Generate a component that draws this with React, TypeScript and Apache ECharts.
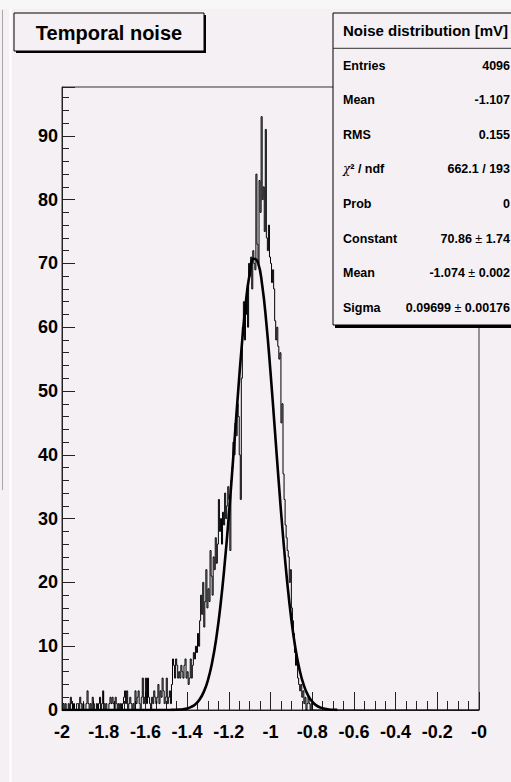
import React, { useEffect, useRef } from "react";
import * as echarts from "echarts";

// ---------- data ----------
const X_MIN = -2;
const X_MAX = 0;
const BIN_WIDTH = 0.005;

// bins -2.000 .. -1.500
const TAIL_COUNTS = [
  0, 1, 0, 1, 0, 0, 1, 0, 2, 1,
  0, 1, 0, 0, 1, 1, 0, 2, 1, 0,
  1, 0, 0, 1, 3, 1, 0, 1, 0, 2,
  1, 0, 0, 1, 0, 1, 2, 0, 1, 3,
  1, 0, 1, 0, 0, 1, 2, 1, 2, 1,
  0, 2, 1, 0, 1, 0, 1, 0, 1, 2,
  3, 1, 3, 0, 1, 2, 1, 0, 1, 0,
  3, 1, 2, 3, 1, 0, 2, 5, 1, 2,
  5, 1, 5, 2, 1, 0, 2, 1, 3, 2,
  1, 2, 4, 1, 3, 2, 5, 3, 1, 2,
];
// bins -1.500 .. -1.300
const SHOULDER_COUNTS = [
  5, 1, 2, 3, 1, 4, 8, 7, 5, 8,
  7, 5, 6, 5, 7, 6, 5, 7, 8, 5,
  6, 4, 5, 8, 5, 7, 9, 8, 10, 9,
  12, 10, 14, 18, 15, 20, 13, 17, 22, 16,
];
// bins -1.300 .. -0.800
const PEAK_COUNTS = [
  19, 17, 25, 21, 18, 24, 22, 27, 23, 26,
  33, 28, 30, 26, 31, 29, 34, 30, 32, 35,
  33, 25, 36, 38, 42, 40, 45, 43, 48, 46,
  40, 33, 52, 60, 64, 58, 62, 66, 60, 70,
  68, 71, 66, 72, 70, 69, 84, 73, 70, 83,
  78, 93, 80, 82, 75, 91, 74, 72, 76, 71,
  70, 67, 69, 66, 61, 58, 60, 57, 55, 56,
  45, 48, 37, 33, 29, 27, 25, 24, 20, 22,
  16, 14, 12, 9, 7, 8, 5, 4, 3, 4,
  2, 3, 1, 2, 0, 1, 2, 1, 0, 1,
];
// bins -0.800 .. 0.000
const EMPTY_COUNTS = [
  0, 0, 0, 0, 0, 0, 0, 0, 0, 0, 0, 0, 0, 0, 0, 0, 0, 0, 0, 0,
  0, 0, 0, 0, 0, 0, 0, 0, 0, 0, 0, 0, 0, 0, 0, 0, 0, 0, 0, 0,
  0, 0, 0, 0, 0, 0, 0, 0, 0, 0, 0, 0, 0, 0, 0, 0, 0, 0, 0, 0,
  0, 0, 0, 0, 0, 0, 0, 0, 0, 0, 0, 0, 0, 0, 0, 0, 0, 0, 0, 0,
  0, 0, 0, 0, 0, 0, 0, 0, 0, 0, 0, 0, 0, 0, 0, 0, 0, 0, 0, 0,
  0, 0, 0, 0, 0, 0, 0, 0, 0, 0, 0, 0, 0, 0, 0, 0, 0, 0, 0, 0,
  0, 0, 0, 0, 0, 0, 0, 0, 0, 0, 0, 0, 0, 0, 0, 0, 0, 0, 0, 0,
  0, 0, 0, 0, 0, 0, 0, 0, 0, 0, 0, 0, 0, 0, 0, 0, 0, 0, 0, 0,
];

// Gaussian fit curve sampled every 0.02 from -2.00 to -0.68
const FIT_START = -2;
const FIT_STEP = 0.02;
const FIT_VALUES = [
  0, 0, 0, 0, 0, 0, 0, 0, 0, 0, 0, 0, 0, 0, 0, 0, 0, 0, 0, 0, 0, 0, 0, 0, 0,
  0.005, 0.011, 0.026, 0.057, 0.122, 0.249, 0.488, 0.916, 1.648, 2.841,
  4.691, 7.43, 11.27, 16.38, 22.82, 30.48, 38.99, 47.83, 56.21, 63.32,
  68.36, 70.73, 70.12, 66.64, 60.68, 52.96, 44.3, 35.52, 27.29, 20.09,
  14.17, 9.59, 6.21, 3.86, 2.3, 1.31, 0.716, 0.375, 0.189, 0.091,
  0.042, 0.019,
];

const Y_MAX = 97.65;
const TITLE = "Temporal noise";
const STATS_TITLE = "Noise distribution [mV]";
const STATS_LABELS = ["Entries", "Mean", "RMS", "{chi|χ}² / ndf", "Prob", "Constant", "Mean", "Sigma"];
const STATS_VALUES = [
  "4096",
  "-1.107",
  "0.155",
  "662.1 / 193",
  "0",
  "70.86 {pm|±} 1.74",
  "-1.074 {pm|±} 0.002",
  "0.09699 {pm|±} 0.00176",
];

// ---------- styling ----------
const FONT = '"Liberation Sans", Arial, Helvetica, sans-serif';
const PAD = "#f4f0f4";
const INK = "#000";

export default function App() {
  const ref = useRef<HTMLDivElement>(null);

  useEffect(() => {
    if (!ref.current) return;
    const chart = echarts.init(ref.current, null, { renderer: "svg" });

    const counts = [...TAIL_COUNTS, ...SHOULDER_COUNTS, ...PEAK_COUNTS, ...EMPTY_COUNTS];
    const histData: number[][] = counts.map((c, i) => [X_MIN + i * BIN_WIDTH, c]);
    histData.push([X_MAX, counts[counts.length - 1]]);
    const fitData = FIT_VALUES.map((v, i) => [FIT_START + i * FIT_STEP, v]);

    const statsTop = 13;
    const statsSep = 48.3;
    const statsBottom = 325;
    const rowH = (statsBottom - statsSep) / STATS_LABELS.length;
    const rich = {
      chi: { fontFamily: '"DejaVu Serif", serif', fontStyle: "italic", fontWeight: "normal", fontSize: 12, fill: INK },
      pm: { fontFamily: FONT, fontWeight: "normal", fontSize: 12.5, fill: INK },
    };

    const statsTexts: any[] = [];
    STATS_LABELS.forEach((lab, k) => {
      const y = statsSep + rowH * (k + 0.5);
      statsTexts.push({
        type: "text",
        z: 21,
        style: {
          text: lab,
          x: 343,
          y,
          fontFamily: FONT,
          fontWeight: "bold",
          fontSize: 12.5,
          fill: INK,
          align: "left",
          verticalAlign: "middle",
          rich,
        },
      });
      statsTexts.push({
        type: "text",
        z: 21,
        style: {
          text: STATS_VALUES[k],
          x: 510,
          y,
          fontFamily: FONT,
          fontWeight: "bold",
          fontSize: 12.5,
          fill: INK,
          align: "right",
          verticalAlign: "middle",
          rich,
        },
      });
    });

    const option: any = {
      animation: false,
      backgroundColor: PAD,
      grid: {
        left: 62,
        top: 87,
        width: 417,
        height: 623,
        show: true,
        borderColor: "#333",
        borderWidth: 1,
        backgroundColor: "transparent",
        containLabel: false,
        outerBoundsMode: "none",
      },
      xAxis: {
        type: "value",
        min: X_MIN,
        max: X_MAX,
        interval: 0.2,
        position: "bottom",
        axisLine: { show: true, onZero: false, lineStyle: { color: "#222", width: 1 } },
        axisTick: { show: true, inside: true, length: 18, lineStyle: { color: "#222", width: 1 } },
        minorTick: { show: true, splitNumber: 4, length: 9, lineStyle: { color: "#222", width: 1 } },
        splitLine: { show: false },
        minorSplitLine: { show: false },
        axisLabel: {
          show: true,
          margin: 13,
          fontFamily: FONT,
          fontWeight: "bold",
          fontSize: 18,
          color: INK,
          showMinLabel: true,
          showMaxLabel: true,
          hideOverlap: false,
          formatter: (v: number) => {
            const r = Math.round(v * 10) / 10;
            return r === 0 ? "-0" : String(r);
          },
        },
      },
      yAxis: {
        type: "value",
        min: 0,
        max: Y_MAX,
        interval: 10,
        position: "left",
        axisLine: { show: true, onZero: false, lineStyle: { color: "#222", width: 1 } },
        axisTick: { show: true, inside: true, length: 13, lineStyle: { color: "#222", width: 1 } },
        minorTick: { show: true, splitNumber: 5, length: 7, lineStyle: { color: "#222", width: 1 } },
        splitLine: { show: false },
        minorSplitLine: { show: false },
        axisLabel: {
          show: true,
          margin: 4,
          fontFamily: FONT,
          fontWeight: "bold",
          fontSize: 18,
          color: INK,
          showMaxLabel: false,
          hideOverlap: false,
          formatter: (v: number) => (Math.abs(v % 10) < 1e-6 ? String(Math.round(v)) : ""),
        },
      },
      series: [
        {
          type: "line",
          name: "histogram",
          data: histData,
          step: "end",
          symbol: "none",
          showSymbol: false,
          silent: true,
          z: 3,
          lineStyle: { color: INK, width: 1 },
        },
        {
          type: "line",
          name: "fit",
          data: fitData,
          smooth: true,
          symbol: "none",
          showSymbol: false,
          silent: true,
          z: 4,
          lineStyle: { color: INK, width: 2.6 },
        },
      ],
      graphic: {
        elements: [
          // surroundings of the pad
          { type: "rect", z: 0, shape: { x: 0, y: 0, width: 511, height: 9 }, style: { fill: "#f8f7f8" } },
          { type: "line", z: 1, shape: { x1: 2.5, y1: 10, x2: 2.5, y2: 490 }, style: { stroke: "#a8a8a8", lineWidth: 1 } },
          { type: "line", z: 1, shape: { x1: 10.5, y1: 9, x2: 10.5, y2: 782 }, style: { stroke: "#ffffff", lineWidth: 2 } },
          // title box
          { type: "rect", z: 10, shape: { x: 16, y: 15, width: 190, height: 38 }, style: { fill: "#000" } },
          { type: "rect", z: 11, shape: { x: 14, y: 13, width: 190, height: 38 }, style: { fill: PAD, stroke: "#000", lineWidth: 1 } },
          {
            type: "text",
            z: 12,
            style: {
              text: TITLE,
              x: 109,
              y: 32.5,
              fontFamily: FONT,
              fontWeight: "bold",
              fontSize: 20,
              fill: INK,
              align: "center",
              verticalAlign: "middle",
            },
          },
          // stats box
          { type: "rect", z: 19, shape: { x: 335, y: statsTop + 2, width: 200, height: statsBottom - statsTop + 1 }, style: { fill: "#000" } },
          { type: "rect", z: 20, shape: { x: 333, y: statsTop, width: 200, height: statsBottom - statsTop }, style: { fill: PAD, stroke: "#000", lineWidth: 1 } },
          { type: "line", z: 21, shape: { x1: 333, y1: statsSep, x2: 511, y2: statsSep }, style: { stroke: "#333", lineWidth: 1 } },
          {
            type: "text",
            z: 21,
            style: {
              text: STATS_TITLE,
              x: 343,
              y: (statsTop + statsSep) / 2,
              fontFamily: FONT,
              fontWeight: "bold",
              fontSize: 15,
              fill: INK,
              align: "left",
              verticalAlign: "middle",
            },
          },
          ...statsTexts,
        ],
      },
    };

    chart.setOption(option);
    return () => chart.dispose();
  }, []);

  return (
    <div
      ref={ref}
      style={{ position: "fixed", left: 0, top: 0, width: 511, height: 782 }}
    />
  );
}
